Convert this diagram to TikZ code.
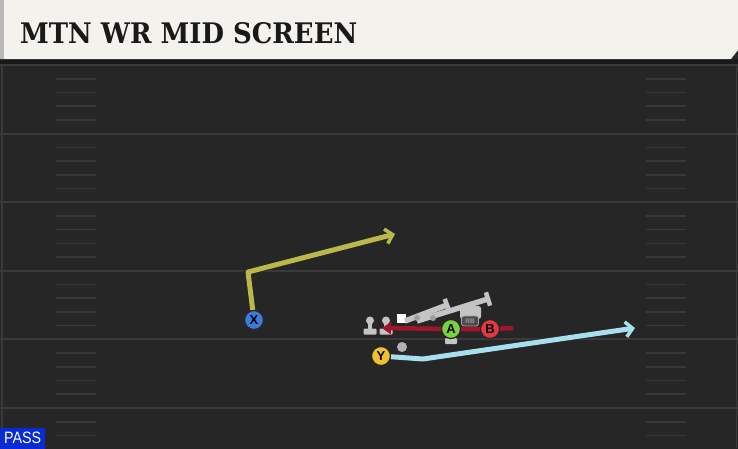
\documentclass[tikz,border=0pt]{standalone}
\usepackage{fontspec}
\setmainfont{DejaVu Serif}
\setsansfont{Liberation Sans}
\newfontfamily\titlefont{DejaVu Serif}
\usetikzlibrary{arrows.meta,calc}

\definecolor{fieldbg}{HTML}{262626}
\definecolor{yardline}{HTML}{3A3A3A}
\definecolor{hashgray}{HTML}{383838}
\definecolor{cream}{HTML}{F4F2EC}
\definecolor{xblue}{HTML}{3D7BDB}
\definecolor{yyellow}{HTML}{F0C030}
\definecolor{agreen}{HTML}{7CD23C}
\definecolor{bred}{HTML}{E2393F}
\definecolor{olive}{HTML}{BAB84A}
\definecolor{skyroute}{HTML}{A6E0EE}
\definecolor{blockred}{HTML}{A0142C}
\definecolor{passblue}{HTML}{0A2AD6}
\definecolor{blockgray}{HTML}{C4C4C4}

\tikzset{
  player/.style={circle, draw=black!85, line width=1.2pt, minimum size=19pt, inner sep=0pt,
    font=\sffamily\bfseries\fontsize{13}{13}\selectfont},
  route/.style={line width=5pt, line join=round,
    preaction={draw=black!85, line width=7pt}},
  routetip/.style={-{Straight Barb[length=7pt,width=15pt,line width=3.5pt]}},
  block/.style={blockgray, line width=5.5pt},
  pawn/.pic={
    \fill[blockgray] (0,-4.5) circle (4);
    \fill[blockgray] (-2.3,-4.5) rectangle (2.3,5);
    \fill[blockgray, rounded corners=1pt] (-6.5,3.5) rectangle (6.5,9.5);
  }
}

\begin{document}
\begin{tikzpicture}[x=1pt,y=-1pt]
\useasboundingbox (0,0) rectangle (738,448);
% field
\fill[fieldbg] (-5,-5) rectangle (743,453);
\foreach \i in {0,...,5}{
  \draw[yardline, line width=2pt] (0,65+68.6*\i) -- (738,65+68.6*\i);
}
\foreach \i in {0,...,5}{
  \foreach \j in {1,...,4}{
    \pgfmathsetmacro\hy{65+68.6*\i+13.72*\j}
    \ifdim\hy pt<445pt
      \draw[hashgray, line width=1.6pt] (56,\hy) -- (96,\hy);
      \draw[hashgray, line width=1.6pt] (646,\hy) -- (686,\hy);
    \fi
  }
}
\draw[yardline, line width=1.5pt] (2,63) -- (2,448);
\draw[yardline, line width=1pt] (736,63) -- (736,448);

% header
\fill[black!90] (0,59) rectangle (738,64);
\fill[cream] (-5,-5) -- (743,-5) -- (738,50) -- (731,59) -- (-5,59) -- cycle;
\fill[gray!55] (-5,-5) rectangle (4,59);
\node[anchor=base west, inner sep=0pt, text=black!90] (title) at (20,43)
  {\resizebox{337pt}{21pt}{\titlefont\bfseries MTN WR MID SCREEN}};

% play call
\node[fill=passblue, anchor=south west, minimum width=45pt, minimum height=21pt,
  inner sep=0pt, text=white] (pass) at (0,449) {\resizebox{37pt}{11.5pt}{\sffamily PASS}};

% line and backfield
\pic at (370,325) {pawn};
\pic at (386,325) {pawn};
\fill[blockgray] (448.8,330) rectangle (453.2,340);
\fill[blockgray, rounded corners=1pt] (445,338) rectangle (457,344);
\fill[white] (397,313.5) rectangle (406,322.5);
\coordinate (b1s) at (405,321);
\coordinate (b1e) at (447,305);
\coordinate (b2s) at (417,321);
\coordinate (b2e) at (488,299);
\draw[block] (b1s) -- (b1e);
\draw[block] (b2s) -- (b2e);
\draw[blockgray, line width=4.5pt] ($(b1e)!6.5pt!90:(b1s)$) -- ($(b1e)!6.5pt!-90:(b1s)$);
\draw[blockgray, line width=4.5pt] ($(b2e)!7pt!90:(b2s)$) -- ($(b2e)!7pt!-90:(b2s)$);
\fill[blockgray, rounded corners=2.5pt] (460,306) rectangle (481,319);
\fill[gray!75] (417,318) circle (3);
\fill[gray!75] (433,318) circle (3);
\node[fill=black!70, draw=gray!70, line width=0.8pt, rounded corners=2.5pt, minimum width=17pt,
  minimum height=10pt, inner sep=0pt, text=gray!80, font=\sffamily\bfseries\fontsize{6.5}{6.5}\selectfont]
  (rb) at (470,321) {RB};
\fill[gray!60] (402,347) circle (5);

% players
\node[player, fill=agreen] (A) at (451,329) {A};
\node[player, fill=bred] (B) at (490,329) {B};
\node[player, fill=xblue] (X) at (254,320) {X};
\node[player, fill=yyellow] (Y) at (381,356) {Y};

% routes
\coordinate (redstart) at (513,328);
\coordinate (redend) at (382,328);
\coordinate (xbreak) at (248,272);
\coordinate (xend) at (395,234);
\coordinate (ybreak) at (423,359);
\coordinate (yend) at (635,328);
\draw[route, olive, routetip] (X) -- (xbreak) -- (xend);
\draw[route, skyroute, routetip] (Y) -- (ybreak) -- (yend);
\draw[blockred, line width=4.5pt, -{Triangle[length=9pt,width=12pt]}] (redstart) -- (B) -- (A) -- (redend);
\end{tikzpicture}
\end{document}
